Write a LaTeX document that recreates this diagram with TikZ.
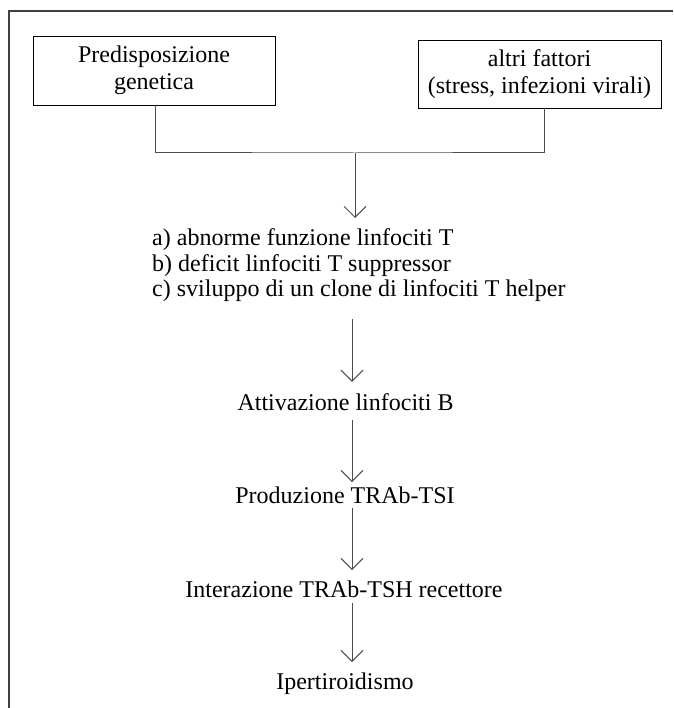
\documentclass[tikz,border=0pt]{standalone}
\usepackage{fontspec}
\setmainfont{Liberation Serif}
\usetikzlibrary{arrows.meta}
\begin{document}
\begin{tikzpicture}[x=1pt,y=-1pt,
  txt/.style={inner sep=0pt, font=\fontsize{24}{27}\selectfont},
  box/.style={draw=black, line width=0.9pt, inner sep=0pt, align=center, font=\fontsize{24}{27.5}\selectfont},
  conn/.style={draw=black!70, line width=1pt},
  arr/.style={conn, -{Straight Barb[length=11pt,width=22pt]}}]
\useasboundingbox (0,0) rectangle (673,708);
\draw[black!75, line width=1.5pt] (9,708) -- (9,11) -- (673,11);
\node[box, minimum width=242pt, minimum height=69pt] (L) at (154,70.5) {Predisposizione\\genetica};
\node[box, minimum width=243pt, minimum height=68pt] (R) at (539.5,74) {altri fattori\\(stress, infezioni virali)};
\coordinate (j) at (355,153);
\draw[conn] ([xshift=1pt]L.south) |- (j) -| ([xshift=4.5pt]R.south);
\node[txt, align=left, anchor=north west, font=\fontsize{24}{25.5}\selectfont] (lst) at (152,228.5)
  {a) abnorme funzione linfociti T\\b) deficit linfociti T suppressor\\c) sviluppo di un clone di linfociti T helper};
\draw[arr, shorten >=10.5pt] (j) -- (j |- lst.north);
\coordinate (ax) at (352,0);
\node[txt, anchor=base] (att) at (345.5,410) {Attivazione linfociti B};
\node[txt, anchor=base] (prod) at (345,503) {Produzione TRAb-TSI};
\node[txt, anchor=base] (inter) at (344,597) {Interazione TRAb-TSH recettore};
\node[txt, anchor=base] (iper) at (345,689) {Ipertiroidismo};
\draw[arr, shorten <=17pt, shorten >=11pt] (lst.south -| ax) -- (att.north -| ax);
\draw[arr, shorten <=10pt, shorten >=4pt] (att.south -| ax) -- (prod.north -| ax);
\draw[arr, shorten <=5pt, shorten >=10pt] (prod.south -| ax) -- (inter.north -| ax);
\draw[arr, shorten <=6pt, shorten >=10pt] (inter.south -| ax) -- (iper.north -| ax);
\end{tikzpicture}
\end{document}
